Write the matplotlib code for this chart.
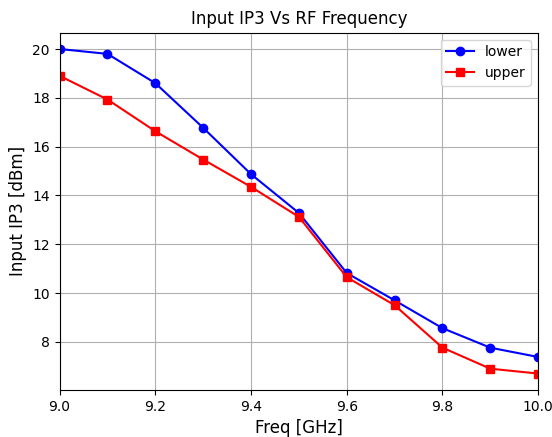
import numpy as np
import matplotlib
matplotlib.use('Agg')
import matplotlib.pyplot as plt

freq = [9.0, 9.1, 9.2, 9.3, 9.4, 9.5, 9.6, 9.7, 9.8, 9.9, 10.0]
lower = [20.0, 19.8, 18.6, 16.77, 14.87, 13.28, 10.82, 9.7, 8.56, 7.76, 7.38]
upper = [18.9, 17.93, 16.63, 15.47, 14.35, 13.12, 10.65, 9.5, 7.76, 6.9, 6.7]

fig = plt.figure(figsize=(5.52, 4.37), dpi=100)
ax = fig.add_subplot(111)
ax.plot(freq, lower, 'b-o', label='lower')
ax.plot(freq, upper, 'r-s', label='upper')
ax.set_xlim(9.0, 10.0)
ax.grid(True)
ax.set_title('Input IP3 Vs RF Frequency')
ax.set_xlabel('Freq [GHz]', fontsize=12)
ax.set_ylabel('Input IP3 [dBm]', fontsize=12)
ax.legend(loc='upper right')
fig.subplots_adjust(left=0.108, right=0.975, top=0.925, bottom=0.108)
fig.savefig('out.png')
